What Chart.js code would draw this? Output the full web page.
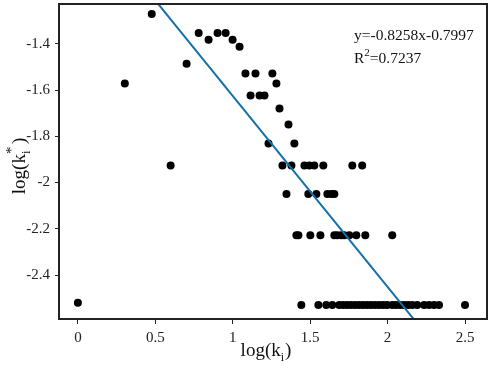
<!DOCTYPE html>
<html>
<head>
<meta charset="utf-8">
<title>log(k*) vs log(k)</title>
<script src="https://cdn.jsdelivr.net/npm/chart.js@4.4.1/dist/chart.umd.min.js"></script>
<style>
  html, body { margin: 0; padding: 0; background: #fff; }
  #wrap { width: 491px; height: 366px; }
</style>
</head>
<body>
<div id="wrap"><canvas id="scatterChart" width="491" height="366"></canvas></div>
<script>
// data
const pointsX = [
    0, 0.303, 0.477, 0.599, 0.702, 0.780, 0.844, 0.902, 0.954, 0.999, 1.044,
    1.082, 1.147, 1.256, 1.282, 1.115, 1.173, 1.205, 1.302, 1.360, 1.231, 1.398,
    // row near -1.93
    1.321, 1.379, 1.463, 1.495, 1.527, 1.585, 1.772, 1.836,
    // row near -2.05
    1.347, 1.488, 1.540, 1.611, 1.637, 1.656,
    // row near -2.23
    1.411, 1.424, 1.501, 1.566, 1.656, 1.675, 1.701, 1.720, 1.753, 1.798, 1.856, 2.030,
    // bottom row
    1.443, 1.553, 1.604, 1.643, 1.688, 1.714, 1.740, 1.765, 1.791, 1.817, 1.843,
    1.869, 1.894, 1.920, 1.946, 1.972, 1.997, 2.030, 2.055, 2.081, 2.107, 2.133,
    2.159, 2.191, 2.236, 2.268, 2.300, 2.332, 2.500
];
const pointsY = [
    -2.52, -1.572, -1.271, -1.926, -1.486, -1.353, -1.383, -1.353, -1.353, -1.383, -1.413,
    -1.529, -1.529, -1.529, -1.572, -1.624, -1.624, -1.624, -1.680, -1.749, -1.831, -1.831,
    -1.926, -1.926, -1.926, -1.926, -1.926, -1.926, -1.926, -1.926,
    -2.05, -2.05, -2.05, -2.05, -2.05, -2.05,
    -2.228, -2.228, -2.228, -2.228, -2.228, -2.228, -2.228, -2.228, -2.228, -2.228, -2.228, -2.228,
    -2.529, -2.529, -2.529, -2.529, -2.529, -2.529, -2.529, -2.529, -2.529, -2.529, -2.529,
    -2.529, -2.529, -2.529, -2.529, -2.529, -2.529, -2.529, -2.529, -2.529, -2.529, -2.529,
    -2.529, -2.529, -2.529, -2.529, -2.529, -2.529, -2.529
];
const fitSlope = -0.8258;
const fitIntercept = -0.7997;
const fitR2 = '0.7237';
const fitX = [0.4, 2.3];

const xTicks = [0, 0.5, 1, 1.5, 2, 2.5];
const yTicks = [-1.4, -1.6, -1.8, -2, -2.2, -2.4];

const serif = '"Liberation Serif", "Times New Roman", serif';

// draws the frame, axis titles and the fit equation
const extrasPlugin = {
    id: 'extras',
    afterDraw(chart) {
        const ctx = chart.ctx;
        const a = chart.chartArea;
        ctx.save();
        ctx.strokeStyle = '#222';
        ctx.lineWidth = 2;
        ctx.strokeRect(a.left, a.top, a.right - a.left, a.bottom - a.top);

        ctx.fillStyle = '#111';
        ctx.textBaseline = 'alphabetic';

        // x axis title: log(k_i)
        ctx.font = '19px ' + serif;
        let main = 'log(k';
        let w1 = ctx.measureText(main).width;
        ctx.font = '12px ' + serif;
        let wi = ctx.measureText('i').width;
        ctx.font = '19px ' + serif;
        let w2 = ctx.measureText(')').width;
        let total = w1 + wi + 1 + w2;
        let x0 = 266 - total / 2;
        let base = 356;
        ctx.textAlign = 'left';
        ctx.fillText(main, x0, base);
        ctx.font = '12px ' + serif;
        ctx.fillText('i', x0 + w1, base + 5);
        ctx.font = '19px ' + serif;
        ctx.fillText(')', x0 + w1 + wi + 1, base);

        // y axis title: log(k_i^*)
        ctx.save();
        ctx.translate(25, 166);
        ctx.rotate(-Math.PI / 2);
        ctx.font = '12px ' + serif;
        let ws = Math.max(ctx.measureText('i').width, ctx.measureText('*').width);
        total = w1 + ws + 4 + w2;
        x0 = -total / 2;
        ctx.font = '19px ' + serif;
        ctx.fillText(main, x0, 0);
        ctx.font = '12px ' + serif;
        ctx.fillText('i', x0 + w1, 5);
        ctx.font = '15px ' + serif;
        ctx.fillText('*', x0 + w1, -9);
        ctx.font = '19px ' + serif;
        ctx.fillText(')', x0 + w1 + ws + 4, 0);
        ctx.restore();

        // fit equation
        ctx.font = '15.5px ' + serif;
        ctx.fillText('y=' + fitSlope + 'x' + fitIntercept, 354, 40);
        ctx.fillText('R', 354, 63);
        let wr = ctx.measureText('R').width;
        ctx.font = '11px ' + serif;
        ctx.fillText('2', 354 + wr, 56);
        let w2s = ctx.measureText('2').width;
        ctx.font = '15.5px ' + serif;
        ctx.fillText('=' + fitR2, 354 + wr + w2s, 63);
        ctx.restore();
    }
};

const scatterData = pointsX.map((x, i) => ({ x: x, y: pointsY[i] }));
const lineData = fitX.map(x => ({ x: x, y: fitSlope * x + fitIntercept }));

new Chart(document.getElementById('scatterChart'), {
    type: 'scatter',
    data: {
        datasets: [
            {
                label: 'fit',
                data: lineData,
                showLine: true,
                borderColor: '#1470a8',
                borderWidth: 2,
                pointRadius: 0,
                order: 0
            },
            {
                label: 'nodes',
                data: scatterData,
                backgroundColor: '#000',
                borderColor: '#000',
                pointRadius: 4,
                borderWidth: 0,
                order: 1
            }
        ]
    },
    options: {
        responsive: false,
        animation: false,
        layout: { padding: { top: 3, right: 2, left: 0, bottom: 0 } },
        plugins: {
            legend: { display: false },
            tooltip: { enabled: false }
        },
        scales: {
            x: {
                type: 'linear',
                min: -0.122,
                max: 2.642,
                afterBuildTicks: scale => { scale.ticks = xTicks.map(v => ({ value: v })); },
                afterFit: scale => {
                    scale.height = 47;
                    scale.paddingLeft = 0;
                    scale.paddingRight = 0;
                },
                border: { color: '#222', width: 2 },
                grid: { drawOnChartArea: false, tickLength: 5, color: '#222' },
                ticks: {
                    color: '#222',
                    padding: 5,
                    maxRotation: 0,
                    font: { family: serif, size: 15 },
                    callback: v => String(v)
                }
            },
            y: {
                type: 'linear',
                min: -2.59,
                max: -1.228,
                afterBuildTicks: scale => { scale.ticks = yTicks.map(v => ({ value: v })); },
                afterFit: scale => {
                    scale.width = 59;
                    scale.paddingTop = 0;
                    scale.paddingBottom = 0;
                },
                border: { color: '#222', width: 2 },
                grid: { drawOnChartArea: false, tickLength: 4, color: '#222' },
                ticks: {
                    color: '#222',
                    padding: 5,
                    font: { family: serif, size: 15 },
                    callback: v => String(v)
                }
            }
        }
    },
    plugins: [extrasPlugin]
});
</script>
</body>
</html>
